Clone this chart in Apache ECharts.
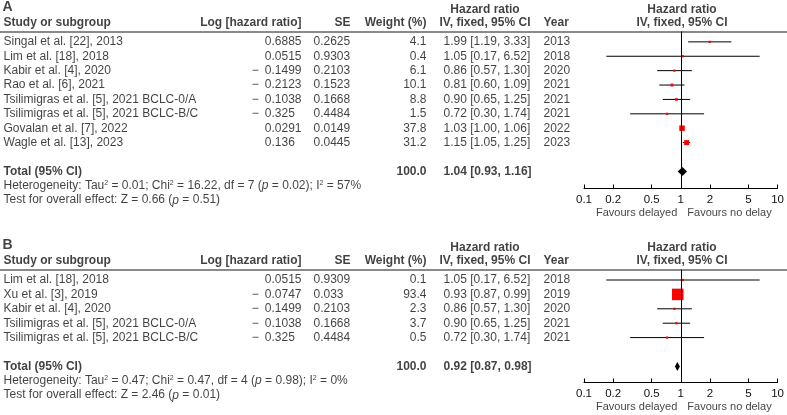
<!DOCTYPE html>
<html>
<head>
<meta charset="utf-8">
<script src="https://cdn.jsdelivr.net/npm/echarts@6/dist/echarts.min.js"></script>
<style>html,body{margin:0;padding:0;background:#fff}#c{width:787px;height:415px}</style>
</head>
<body>
<div id="c"></div>
<script>
// ---------------- data: panel A ----------------
const studiesA = ["Singal et al. [22], 2013", "Lim et al. [18], 2018", "Kabir et al. [4], 2020", "Rao et al. [6], 2021",
  "Tsilimigras et al. [5], 2021 BCLC-0/A", "Tsilimigras et al. [5], 2021 BCLC-B/C", "Govalan et al. [7], 2022", "Wagle et al. [13], 2023"];
const logHrA = [0.6885, 0.0515, -0.1499, -0.2123, -0.1038, -0.325, 0.0291, 0.136];
const seA = [0.2625, 0.9303, 0.2103, 0.1523, 0.1668, 0.4484, 0.0149, 0.0445];
const weightA = [4.1, 0.4, 6.1, 10.1, 8.8, 1.5, 37.8, 31.2];
const hrA = [1.99, 1.05, 0.86, 0.81, 0.90, 0.72, 1.03, 1.15];
const loA = [1.19, 0.17, 0.57, 0.60, 0.65, 0.30, 1.00, 1.05];
const hiA = [3.33, 6.52, 1.30, 1.09, 1.25, 1.74, 1.06, 1.25];
const yearA = [2013, 2018, 2020, 2021, 2021, 2021, 2022, 2023];
const totalA = [1.04, 0.93, 1.16];           // HR, lower, upper
const hetA = [0.01, 16.22, 7, 0.02, 57];     // Tau2, Chi2, df, p, I2
const testA = [0.66, 0.51];                  // Z, p

// ---------------- data: panel B ----------------
const studiesB = ["Lim et al. [18], 2018", "Xu et al. [3], 2019", "Kabir et al. [4], 2020",
  "Tsilimigras et al. [5], 2021 BCLC-0/A", "Tsilimigras et al. [5], 2021 BCLC-B/C"];
const logHrB = [0.0515, -0.0747, -0.1499, -0.1038, -0.325];
const seB = [0.9309, 0.033, 0.2103, 0.1668, 0.4484];
const weightB = [0.1, 93.4, 2.3, 3.7, 0.5];
const hrB = [1.05, 0.93, 0.86, 0.90, 0.72];
const loB = [0.17, 0.87, 0.57, 0.65, 0.30];
const hiB = [6.52, 0.99, 1.30, 1.25, 1.74];
const yearB = [2018, 2019, 2020, 2021, 2021];
const totalB = [0.92, 0.87, 0.98];
const hetB = [0.47, 0.47, 4, 0.98, 0];
const testB = [2.46, 0.01];

// ---------------- axis ticks ----------------
const tickValues = [0.1, 0.2, 0.5, 1, 2, 5, 10];
const headerTexts = {
  study: "Study or subgroup", logHr: "Log [hazard ratio]", se: "SE", weight: "Weight (%)",
  hr1: "Hazard ratio", hr2: "IV, fixed, 95% CI", year: "Year"
};
const favourLeft = "Favours delayed";
const favourRight = "Favours no delay";

// ---------------- layout ----------------
const FONT = "'Liberation Sans', Arial, Helvetica, sans-serif";
const INK = '#111';
const W = 787;
const COL = { study: 3, logHr: 302, se: 313, seHead: 351, weight: 427, ci: 443, ciHead: 485, year: 543, plotHead: 682 };
const PLOT_L = 584, PLOT_R = 780;
const PANELS = [
  { letter: 'A', top: 31.5, bottom: 188.5, minIdx: -0.72, maxIdx: 10.19, boxMax: 5.5,
    studies: studiesA, logHr: logHrA, se: seA, weight: weightA, hr: hrA, lo: loA, hi: hiA, year: yearA,
    total: totalA, het: hetA, test: testA },
  { letter: 'B', top: 269.5, bottom: 382.5, minIdx: -0.73, maxIdx: 7.12, boxMax: 11.5,
    studies: studiesB, logHr: logHrB, se: seB, weight: weightB, hr: hrB, lo: loB, hi: hiB, year: yearB,
    total: totalB, het: hetB, test: testB }
];

const lg = v => Math.max(-1, Math.min(1, Math.log10(v)));
const tickLog = tickValues.map(lg);
const f2 = v => v.toFixed(2);
const ciText = (h, l, u) => f2(h) + ' [' + f2(l) + ', ' + f2(u) + ']';
const logText = v => {
  const s = String(Math.abs(v));
  const dec = (s.split('.')[1] || '').length;
  const pad = 4 - dec;
  return (v < 0 ? '\u2212\u2002' : '') + s + (pad > 0 ? '{h|' + '0'.repeat(pad) + '}' : '');
};

const baseRich = {
  b: { fontWeight: 'bold', fontSize: 12, fontFamily: FONT, color: INK },
  sup: { fontSize: 7, fontFamily: FONT, color: INK, verticalAlign: 'top', lineHeight: 12 },
  i: { fontStyle: 'italic', fontSize: 12, fontFamily: FONT, color: INK },
  h: { fontSize: 12, fontFamily: FONT, color: 'rgba(0,0,0,0)' }
};

const grids = [], xAxes = [], yAxes = [], series = [];

PANELS.forEach((p, k) => {
  const gT = 2 * k, gP = 2 * k + 1;
  const height = p.bottom - p.top;
  const step = height / (p.maxIdx - p.minIdx);
  const head2 = p.minIdx - 9 / step;
  const head1 = p.minIdx - 22 / step;
  const letterRow = p.minIdx - 24.5 / step;
  const n = p.studies.length;
  const totalRow = n + 1;

  grids.push({ left: 0, width: W, top: p.top, height: height });
  grids.push({ left: PLOT_L, width: PLOT_R - PLOT_L, top: p.top, height: height });

  xAxes.push({ type: 'value', gridIndex: gT, min: 0, max: W, show: false });
  xAxes.push({
    type: 'value', gridIndex: gP, min: -1, max: 1, position: 'bottom',
    axisLine: { show: true, onZero: false, lineStyle: { color: '#000', width: 1 } },
    axisTick: { show: true, inside: true, length: 4, customValues: tickLog, lineStyle: { color: '#000', width: 1 } },
    axisLabel: {
      show: true, customValues: tickLog, margin: 5, fontSize: 11.5, fontFamily: FONT, color: INK,
      formatter: v => String(parseFloat(Math.pow(10, v).toPrecision(2)))
    },
    splitLine: { show: false }
  });
  yAxes.push({ type: 'value', gridIndex: gT, min: p.minIdx, max: p.maxIdx, inverse: true, show: false });
  yAxes.push({ type: 'value', gridIndex: gP, min: p.minIdx, max: p.maxIdx, inverse: true, show: false });

  // ----- table text -----
  const items = [];
  const T = (x, y, t, pos, extra) => items.push({ value: [x, y], t: t, label: Object.assign({ position: pos }, extra || {}) });
  const bold = { fontWeight: 'bold' };

  T(2, letterRow, p.letter, 'right', { fontWeight: 'bold', fontSize: 14 });
  T(COL.ciHead, head1, headerTexts.hr1, 'inside', bold);
  T(COL.plotHead, head1, headerTexts.hr1, 'inside', bold);
  T(COL.study, head2, headerTexts.study, 'right', bold);
  T(COL.logHr, head2, headerTexts.logHr, 'left', bold);
  T(COL.seHead, head2, headerTexts.se, 'left', bold);
  T(COL.weight, head2, headerTexts.weight, 'left', bold);
  T(COL.ciHead, head2, headerTexts.hr2, 'inside', bold);
  T(COL.year, head2, headerTexts.year, 'right', bold);
  T(COL.plotHead, head2, headerTexts.hr2, 'inside', bold);

  p.studies.forEach((s, i) => {
    T(COL.study, i, s, 'right');
    T(COL.logHr, i, logText(p.logHr[i]), 'left');
    T(COL.se, i, String(p.se[i]), 'right');
    T(COL.weight, i, p.weight[i].toFixed(1), 'left');
    T(COL.ci, i, ciText(p.hr[i], p.lo[i], p.hi[i]), 'right');
    T(COL.year, i, String(p.year[i]), 'right');
  });

  const wSum = p.weight.reduce((a, b) => a + b, 0);
  T(COL.study, totalRow, 'Total (95% CI)', 'right', bold);
  T(COL.weight, totalRow, wSum.toFixed(1), 'left', bold);
  T(COL.ci, totalRow, ciText(p.total[0], p.total[1], p.total[2]), 'right', bold);
  const h = p.het;
  T(COL.study, totalRow + 1,
    'Heterogeneity: Tau{sup|2} = ' + f2(h[0]) + '; Chi{sup|2} = ' + f2(h[1]) + ', df = ' + h[2] +
    ' ({i|p} = ' + f2(h[3]) + '); I{sup|2} = ' + h[4] + '%', 'right');
  T(COL.study, totalRow + 2,
    'Test for overall effect: Z = ' + f2(p.test[0]) + ' ({i|p} = ' + f2(p.test[1]) + ')', 'right');

  series.push({
    type: 'scatter', xAxisIndex: gT, yAxisIndex: gT, symbolSize: 1, silent: true, clip: false,
    itemStyle: { color: 'rgba(0,0,0,0)' }, animation: false, z: 5,
    label: {
      show: true, distance: 0, fontSize: 12, fontFamily: FONT, color: INK,
      formatter: q => q.data.t, rich: baseRich
    },
    data: items,
    markLine: {
      silent: true, symbol: ['none', 'none'], label: { show: false }, animation: false,
      lineStyle: { color: '#8a8a8a', width: 2, type: 'solid' },
      data: [{ yAxis: p.minIdx }]
    }
  });

  // ----- forest plot: study CIs and boxes -----
  const wMax = Math.max.apply(null, p.weight);
  series.push({
    type: 'custom', xAxisIndex: gP, yAxisIndex: gP, silent: true, animation: false, clip: false, z: 3,
    data: p.hr.map((v, i) => [lg(v), lg(p.lo[i]), lg(p.hi[i]), i, p.weight[i]]),
    encode: { x: [0, 1, 2], y: 3 },
    renderItem: (params, api) => {
      const y = api.value(3);
      const a = api.coord([api.value(1), y]);
      const b = api.coord([api.value(2), y]);
      const c = api.coord([api.value(0), y]);
      const s = Math.max(2.2, p.boxMax * Math.sqrt(api.value(4) / wMax));
      return {
        type: 'group', children: [
          { type: 'line', shape: { x1: a[0], y1: a[1], x2: b[0], y2: b[1] }, style: { stroke: '#000', lineWidth: 1 } },
          { type: 'rect', shape: { x: c[0] - s / 2, y: c[1] - s / 2, width: s, height: s }, style: { fill: '#f00' } }
        ]
      };
    },
    markLine: {
      silent: true, symbol: ['none', 'none'], label: { show: false }, animation: false,
      lineStyle: { color: '#000', width: 1, type: 'solid' },
      data: [{ xAxis: 0 }]
    }
  });

  // ----- pooled diamond -----
  series.push({
    type: 'custom', xAxisIndex: gP, yAxisIndex: gP, silent: true, animation: false, clip: false, z: 4,
    data: [[lg(p.total[0]), lg(p.total[1]), lg(p.total[2]), totalRow]],
    encode: { x: [0, 1, 2], y: 3 },
    renderItem: (params, api) => {
      const y = api.value(3);
      const l = api.coord([api.value(1), y]);
      const r = api.coord([api.value(2), y]);
      const c = api.coord([api.value(0), y]);
      const hh = 4.5;
      return {
        type: 'polygon',
        shape: { points: [[l[0], c[1]], [c[0], c[1] - hh], [r[0], c[1]], [c[0], c[1] + hh]] },
        style: { fill: '#000' }
      };
    }
  });

  // ----- favours labels -----
  const favRow = p.maxIdx + 24 / step;
  series.push({
    type: 'scatter', xAxisIndex: gP, yAxisIndex: gP, symbolSize: 1, silent: true, clip: false,
    itemStyle: { color: 'rgba(0,0,0,0)' }, animation: false,
    label: { show: true, fontSize: 11, fontFamily: FONT, color: INK, formatter: q => q.data.t },
    data: [
      { value: [0, favRow], t: favourLeft, label: { position: 'left', distance: 3 } },
      { value: [0, favRow], t: favourRight, label: { position: 'right', distance: 6 } }
    ]
  });
});

const chart = echarts.init(document.getElementById('c'));
chart.setOption({
  animation: false,
  backgroundColor: '#fff',
  textStyle: { fontFamily: FONT },
  grid: grids,
  xAxis: xAxes,
  yAxis: yAxes,
  series: series
});
</script>
</body>
</html>
